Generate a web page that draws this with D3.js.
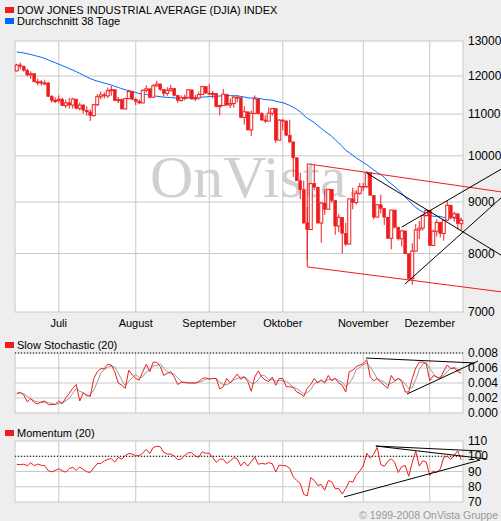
<!DOCTYPE html>
<html><head><meta charset="utf-8">
<script src="https://cdn.jsdelivr.net/npm/d3@7"></script>
<style>body{margin:0;background:#eeeeee}svg{display:block;font-family:"Liberation Sans",Arial,sans-serif}</style>
</head><body><div id="chart"></div>
<script>
const width = 501, height = 521;
const plotLeft = 15, plotRight = 463;

// closes before the visible window (for the 38 day average and momentum)
const priorCloses = [12825,12721,12763,12849,12891,12876,12832,12820,13010,13058,12969,12814,12906,12867,12745,12876,12832,12898,12992,12986,12828,12825,12601,12625,12480,12548,12594,12647,12638,12503,12402,12390,12604,12209,12280,12290,12084,12141];

const closes = [
  12307,12269,12160,12029,12063,11842,11842,11808,11811,11453,11346,11350,
  11382,11215,11288,11231,11384,11147,11229,11100,11055,10962,11239,11446,11496,11467,11602,11632,11349,11370,11131,11397,11583,11378,
  11326,11284,11616,11656,11432,11734,11782,11642,11532,11615,11659,11479,11348,11417,11430,11628,11386,11413,11503,11715,11543,
  11516,11532,11188,11220,11511,11231,11268,11434,11421,10918,11059,10610,11020,11388,11015,10854,10825,11022,11143,10365,10851,
  10831,10483,10325,9955,9447,9258,8579,8451,9387,9310,8577,8979,8852,9265,9033,8519,8691,8378,8175,9065,8990,9180,9325,
  9319,9625,9139,8695,8943,8870,8693,8283,8835,8497,8273,8424,7997,7552,8046,8443,8479,8726,8829,
  8149,8419,8591,8376,8635,8934,8691,8761,8565,8629];
const highs = [
  12340,12380,12290,12200,12130,12060,11930,11890,11900,11830,11490,11430,
  11480,11420,11370,11420,11420,11390,11300,11260,11200,11120,11260,11510,11580,11560,11690,11730,11640,11440,11400,11420,11630,11600,
  11420,11380,11640,11750,11650,11780,11870,11800,11650,11700,11760,11680,11500,11480,11500,11650,11630,11490,11580,11730,11720,
  11790,11600,11530,11240,11650,11520,11400,11470,11480,11420,11200,11060,11090,11480,11390,11050,10970,11170,11150,11140,10870,
  10880,10830,10860,10330,9970,9620,9450,8900,9390,9800,9310,9000,9270,9270,9270,9030,8760,8690,8580,9070,9300,9250,9400,
  9400,9660,9620,9140,8960,9150,8870,8700,8840,8830,8500,8450,8430,7990,8190,8560,8620,8730,8840,
  8830,8450,8650,8590,8640,9030,8940,8800,8760,8680];
const lows = [
  12130,12180,12120,11990,11920,11830,11750,11740,11760,11440,11290,11280,
  11280,11200,11150,11140,11140,11120,11090,11010,10960,10830,10940,11200,11380,11400,11410,11470,11330,11280,11120,11120,11380,11360,
  11230,11250,11280,11560,11400,11420,11710,11600,11460,11470,11580,11450,11290,11320,11350,11420,11370,11330,11370,11500,11520,
  11480,11400,11170,10970,11210,11220,11150,11160,11300,10900,10740,10600,10460,11030,11000,10830,10780,10830,10960,10300,10370,
  10600,10460,10300,9530,9440,9060,8560,7880,8450,9250,8570,8200,8740,8860,8980,8350,8400,8000,8140,8170,8850,8950,9150,
  9230,9290,9130,8650,8690,8770,8540,8280,8080,8470,8240,8130,7990,7550,7450,8040,8270,8430,8700,
  8140,8150,8320,8300,8240,8620,8650,8600,8450,8440];

const stochastic = [
  0.0026,0.00275,0.0024,0.0015,0.0019,0.0014,0.0012,0.0015,0.0016,0.0011,0.00115,0.00115,0.0016,0.00125,0.0020,0.0026,0.0033,0.0038,0.0016,0.0027,
  0.0024,0.0022,0.0046,0.0055,0.0059,0.0059,0.0065,0.0064,0.0055,0.0040,0.0037,0.0033,0.0057,0.0051,0.0046,0.0044,0.0055,0.0065,0.0055,0.0068,
  0.00675,0.0062,0.0050,0.0053,0.0055,0.0048,0.0038,0.0041,0.0041,0.0040,0.0040,0.0040,0.0042,0.0046,0.0047,0.0045,0.0046,0.0046,0.0032,0.0035,
  0.0046,0.0040,0.0046,0.0052,0.0045,0.0048,0.0042,0.0029,0.0048,0.0056,0.0048,0.0044,0.0042,0.0048,0.0037,0.0046,0.0046,0.0035,0.0035,0.0034,
  0.0028,0.0026,0.0022,0.0033,0.0038,0.0046,0.0040,0.0044,0.0040,0.0050,0.0043,0.0046,0.0040,0.0037,0.0028,0.0055,0.0057,0.0062,0.0064,0.0066,
  0.0071,0.0048,0.0043,0.0046,0.0041,0.0037,0.0033,0.0050,0.0043,0.0046,0.0042,0.0028,0.0028,0.0046,0.0060,0.00675,0.0068,0.0066,0.0043,0.0050,
  0.0048,0.0046,0.0056,0.0064,0.0059,0.0060,0.0055,0.0053];

const monthStarts = [12, 34, 55, 76, 99, 118];
const monthLabels = ["Juli", "August", "September", "Oktober", "November", "Dezember"];
const priceTicks = [7000, 8000, 9000, 10000, 11000, 12000, 13000];
const stochTicks = [0, 0.002, 0.004, 0.006, 0.008];
const momTicks = [70, 80, 90, 100, 110];

// trend lines as [day index, value]
const priceRedLines = [[[83, 9820], [138.4, 9210]], [[83, 7760], [138.4, 7330]], [[83, 9820], [83, 7760]]];
const priceBlackLines = [[[100, 9615], [138.4, 7970]], [[110.9, 7460], [138.4, 9085]], [[110, 8500], [138.4, 9700]]];
const stochLines = [[[99.8, 0.00733], [130.9, 0.00667]], [[111.5, 0.00253], [131.8, 0.00693]]];
const momLines = [[[102.6, 106.7], [132.9, 103.4]], [[102.6, 106.7], [134.4, 98.2]], [[93.5, 73.3], [132.4, 97.5]]];

const all = priorCloses.concat(closes);
const off = priorCloses.length;
const opens = closes.map((c, i) => all[off + i - 1]);
const ma38 = closes.map((c, i) => d3.mean(all.slice(off + i - 37, off + i + 1)));
const momentum = closes.map((c, i) => c / all[off + i - 20] * 100);
const stochSignal = stochastic.map((s, i) => d3.mean(stochastic.slice(Math.max(0, i - 2), i + 1)));

const x = d3.scaleLinear().domain([-0.5, closes.length - 0.5]).range([plotLeft, plotRight]);
const y = d3.scaleLog().domain([7000, 13000]).range([312, 41]);
const yS = d3.scaleLinear().domain([0, 0.008]).range([413, 353]);
const yM = d3.scaleLinear().domain([70, 110]).range([502, 441]);

const svg = d3.select("#chart").append("svg").attr("width", width).attr("height", height);
svg.append("rect").attr("width", width).attr("height", height).attr("fill", "#eeeeee");

function legend(yy, color, label) {
  svg.append("rect").attr("x", 5).attr("y", yy - 7).attr("width", 9).attr("height", 6).attr("fill", color);
  svg.append("text").attr("x", 17).attr("y", yy).attr("font-size", 11).attr("fill", "#000").text(label);
}
legend(14, "#ee1c1c", "DOW JONES INDUSTRIAL AVERAGE (DJIA) INDEX");
legend(25, "#0066ff", "Durchschnitt 38 Tage");
legend(349, "#ee1c1c", "Slow Stochastic (20)");
legend(437, "#ee1c1c", "Momentum (20)");

function panel(sc, ticks, fmt, dottedVal) {
  const [b, t] = sc.range();
  svg.append("rect").attr("x", plotLeft).attr("y", t).attr("width", plotRight - plotLeft).attr("height", b - t)
    .attr("fill", "#fff").attr("stroke", "#c8c8c8");
  ticks.forEach(v => {
    if (v !== sc.domain()[0] && v !== sc.domain()[1])
      svg.append("line").attr("x1", plotLeft).attr("x2", plotRight).attr("y1", sc(v)).attr("y2", sc(v)).attr("stroke", "#c8c8c8");
    svg.append("text").attr("x", 468).attr("y", sc(v) + 4).attr("font-size", 12).attr("fill", "#000").text(fmt(v));
  });
  monthStarts.forEach(i => svg.append("line").attr("x1", x(i)).attr("x2", x(i)).attr("y1", t).attr("y2", b).attr("stroke", "#c8c8c8"));
  if (dottedVal != null)
    svg.append("line").attr("x1", plotLeft).attr("x2", plotRight).attr("y1", sc(dottedVal)).attr("y2", sc(dottedVal))
      .attr("stroke", "#000").attr("stroke-dasharray", "1,2");
}
panel(y, priceTicks, d => d, null);
panel(yS, stochTicks, d3.format(".3f"), 0.008);
panel(yM, momTicks, d => d, 100);

monthLabels.forEach((m, k) => svg.append("text").attr("x", x(monthStarts[k])).attr("y", 327)
  .attr("text-anchor", "middle").attr("font-size", 11).text(m));

// watermark
const wm = svg.append("text").attr("x", 150).attr("y", 197).attr("font-family", "'Liberation Serif','DejaVu Serif',serif")
  .attr("font-size", 60).attr("fill", "#d0d0d0");
wm.append("tspan").text("OnVista");
wm.append("tspan").attr("fill", "#f3c8c8").text(".");

// MA line
svg.append("path").datum(ma38).attr("fill", "none").attr("stroke", "#0066ff").attr("stroke-width", 1)
  .attr("d", d3.line().x((d, i) => x(i)).y(d => y(d)));

// candles
const red = "#ee1c1c";
const g = svg.append("g");
closes.forEach((c, i) => {
  const o = opens[i];
  g.append("line").attr("x1", x(i)).attr("x2", x(i)).attr("y1", y(highs[i])).attr("y2", y(lows[i])).attr("stroke", red);
  const top = y(Math.max(o, c)), bot = y(Math.min(o, c));
  g.append("rect").attr("x", x(i) - 1.5).attr("y", top).attr("width", 3).attr("height", Math.max(1, bot - top))
    .attr("fill", c < o ? red : "#fff").attr("stroke", red).attr("stroke-width", c < o ? 0.5 : 1);
});

const segLine = (sc) => d3.line().x(d => x(d[0])).y(d => sc(d[1]));
priceRedLines.forEach(l => svg.append("path").attr("d", segLine(y)(l)).attr("stroke", red).attr("fill", "none"));
priceBlackLines.forEach(l => svg.append("path").attr("d", segLine(y)(l)).attr("stroke", "#000").attr("fill", "none"));

// stochastic
svg.append("path").datum(stochSignal).attr("fill", "none").attr("stroke", "#999").attr("d", d3.line().x((d, i) => x(i)).y(d => yS(d)));
svg.append("path").datum(stochastic).attr("fill", "none").attr("stroke", red).attr("d", d3.line().x((d, i) => x(i)).y(d => yS(d)));
stochLines.forEach(l => svg.append("path").attr("d", segLine(yS)(l)).attr("stroke", "#000").attr("fill", "none"));

// momentum
svg.append("path").datum(momentum).attr("fill", "none").attr("stroke", red).attr("d", d3.line().x((d, i) => x(i)).y(d => yM(d)));
momLines.forEach(l => svg.append("path").attr("d", segLine(yM)(l)).attr("stroke", "#000").attr("fill", "none"));

svg.append("text").attr("x", 498).attr("y", 519).attr("text-anchor", "end").attr("font-size", 10.5).attr("fill", "#999")
  .text("© 1999-2008 OnVista Gruppe");
</script></body></html>
